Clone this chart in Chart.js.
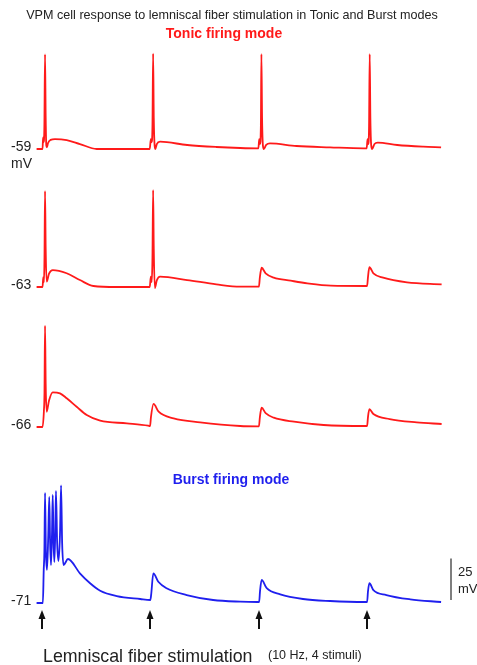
<!DOCTYPE html>
<html>
<head>
<meta charset="utf-8">
<script src="https://cdn.jsdelivr.net/npm/chart.js@4"></script>
<style>
  html, body { margin: 0; padding: 0; background: #fff; }
  #wrap { position: relative; width: 477px; height: 665px; }
</style>
</head>
<body>
<div id="wrap"><canvas id="grafico" width="477" height="665"></canvas></div>
<script>
// valores: tempo (ms, estímulo em 0/100/200/300) e potencial (mV)
const estimulos = [0, 100, 200, 300];
const repouso = [-59, -63, -66, -71];
const rotulos = ["-59", "-63", "-66", "-71"];

const tonico59 = [
  [-5,-59],[0.5,-59],[1.0,-52],[1.5,-55],[2.2,-45],[2.8,-2],[3.4,-40],[4.0,-57],[4.6,-58],
  [5.5,-55.5],[8,-53.5],[12,-53],[22.8,-53.6],[35,-56],[50.5,-59],[70,-59],[98,-59],
  [99.5,-59],[100.5,-53],[101.2,-55],[102,-45],[102.6,-1.5],[103.2,-40],[104,-57],[104.7,-59],
  [106,-56],[109,-54.6],[134,-56.6],[161,-57.8],[183,-58.4],[199,-58.6],
  [199.8,-58.6],[200.6,-53],[201.3,-56],[202.1,-45],[202.6,-1.8],[203.2,-40],[204,-57],[204.8,-59],
  [207,-56.5],[210.5,-55.6],[235,-57.2],[266,-58],[297,-58.6],
  [299.8,-58.6],[300.6,-53],[301.3,-56],[302,-45],[302.6,-1.8],[303.2,-40],[304,-57],[304.8,-59],
  [307,-56],[310,-55.2],[328,-56.6],[352,-57.6],[368.5,-58]
];

const tonico63 = [
  [-5,-63],[0.5,-63],[1.2,-57],[1.8,-60],[2.3,-45],[2.8,-5.2],[3.4,-40],[4.3,-59.8],
  [6.5,-55],[9.9,-52.8],[22.8,-54.7],[35,-58.8],[47.4,-62.4],[69,-63],[98,-63],
  [99.5,-63],[100.5,-56.8],[101.3,-60],[102,-45],[102.6,-4.6],[103.2,-40],[104.2,-63.6],
  [106,-59],[109,-56.8],[134,-58.8],[161,-61.4],[183,-62.8],[199,-62.8],
  [200.3,-62.8],[201.2,-57],[202.8,-51.4],[206.5,-54.8],[214,-57.4],[229.6,-59.2],[245,-60.8],[266.7,-62.2],[299,-62.4],
  [300.2,-62.4],[301,-57],[302.3,-51.1],[306,-54.8],[315,-57.4],[337,-60.2],[369,-61.4]
];

const tonico66 = [
  [-5,-66],[0.5,-66],[1.8,-55.8],[2.3,-45],[2.8,-5],[3.4,-40],[4.3,-56.8],
  [6.5,-50],[9.9,-45.1],[16.6,-45.7],[22.8,-48.7],[32,-53.8],[41.3,-58.8],[53.7,-62.2],[78.4,-63.8],[98,-65.2],
  [99.8,-65.4],[100.6,-60],[103,-52.1],[107.7,-56.8],[121.6,-60.8],[146,-63.2],[183,-65.4],[199,-65.6],
  [200.3,-65.6],[201.2,-60],[202.8,-54.4],[206.5,-57.7],[214,-60.4],[232.7,-62.8],[260,-64.8],[299,-65.4],
  [300.2,-65.4],[301,-60],[302.3,-55.3],[306,-58.2],[321,-61.2],[346,-63.2],[369,-64.2]
];

const rajada71 = [
  [-5,-71],[0.8,-71],[1.6,-51],[2.2,-40],[2.8,-4.7],[3.6,-40],[4.6,-51.1],
  [5.8,-30],[6.7,-7.1],[7.5,-35],[8.3,-48.1],
  [9.2,-30],[9.9,-5.9],[10.7,-35],[11.4,-46.3],
  [12.2,-30],[12.9,-3.5],[14,-35],[15.2,-45.7],
  [16.6,-30],[17.6,-0.1],[18.6,-35],[19.9,-48.1],
  [24,-44.5],[35,-53.1],[44.4,-59.1],[53.7,-63.6],[69,-66.8],[90.7,-68.6],[100,-69.2],
  [100.8,-66],[102.8,-53.1],[107.4,-58.2],[115,-62.1],[133.6,-66.2],[158,-69.2],[183,-70.2],[199,-70.4],
  [200.5,-70.4],[201.3,-64],[202.8,-57.1],[207.5,-62.1],[220,-65.8],[241,-68.6],[266,-69.8],[298.6,-70.4],
  [300.2,-70.4],[301,-64],[302.3,-59.1],[306,-63.2],[318,-66.2],[340,-68.8],[368.5,-70.4]
];

// layout (pixels)
const pxPorMv = 1.66;
const pxPorMs = 1.083;
const xEstimulo0 = 42;
const baseY = [149, 287, 427, 603];
const W = 477, H = 665;

const tracos = [tonico59, tonico63, tonico66, rajada71];
const cores = ["#ff1a1a", "#ff1a1a", "#ff1a1a", "#1f1fee"];

function deslocado(traco, i) {
  const off = -baseY[i] / pxPorMv - repouso[i];
  return traco.map(([t, v]) => ({ x: t, y: v + off }));
}

const FONTE = 'Arial, "Liberation Sans", sans-serif';

const textos = {
  id: "textos",
  afterDraw(chart) {
    const ctx = chart.ctx;
    const sx = chart.scales.x, sy = chart.scales.y;
    ctx.save();
    ctx.textBaseline = "middle";

    ctx.fillStyle = "#222";
    ctx.font = "12.6px " + FONTE;
    ctx.textAlign = "center";
    ctx.fillText("VPM cell response to lemniscal fiber stimulation in Tonic and Burst modes", 232, 16);

    ctx.fillStyle = "#ff1a1a";
    ctx.font = "bold 14px " + FONTE;
    ctx.fillText("Tonic firing mode", 224, 34);

    ctx.fillStyle = "#1f1fee";
    ctx.fillText("Burst firing mode", 231, 480);

    // rótulos do potencial de repouso
    ctx.fillStyle = "#222";
    ctx.font = "14px " + FONTE;
    ctx.textAlign = "left";
    rotulos.forEach((r, i) => ctx.fillText(r, 11, baseY[i] - 2));
    ctx.fillText("mV", 11, 164);

    // barra de escala 25 mV
    const y0 = sy.getPixelForValue(-600 / pxPorMv);
    const y1 = sy.getPixelForValue(-600 / pxPorMv + 25);
    ctx.strokeStyle = "#555";
    ctx.lineWidth = 1.5;
    ctx.beginPath();
    ctx.moveTo(451, y0);
    ctx.lineTo(451, y1);
    ctx.stroke();
    ctx.font = "13px " + FONTE;
    ctx.fillStyle = "#222";
    ctx.fillText("25", 458, 572);
    ctx.fillText("mV", 458, 589);

    // setas dos estímulos
    ctx.fillStyle = "#111";
    ctx.strokeStyle = "#111";
    ctx.lineWidth = 2;
    estimulos.forEach(t => {
      const x = Math.round(sx.getPixelForValue(t));
      ctx.beginPath();
      ctx.moveTo(x, 629);
      ctx.lineTo(x, 616);
      ctx.stroke();
      ctx.beginPath();
      ctx.moveTo(x, 610);
      ctx.lineTo(x - 3.5, 619);
      ctx.lineTo(x + 3.5, 619);
      ctx.closePath();
      ctx.fill();
    });

    ctx.fillStyle = "#222";
    ctx.font = "17.8px " + FONTE;
    ctx.fillText("Lemniscal fiber stimulation", 43, 657);
    ctx.font = "12.5px " + FONTE;
    ctx.fillText("(10 Hz, 4 stimuli)", 268, 656);
    ctx.restore();
  }
};

new Chart(document.getElementById("grafico"), {
  type: "line",
  data: {
    datasets: tracos.map((tr, i) => ({
      data: deslocado(tr, i),
      borderColor: cores[i],
      borderWidth: 1.8,
      pointRadius: 0,
      cubicInterpolationMode: "monotone",
      fill: false
    }))
  },
  options: {
    responsive: false,
    animation: false,
    layout: { padding: 0 },
    plugins: { legend: { display: false }, tooltip: { enabled: false } },
    scales: {
      x: { type: "linear", display: false, min: -xEstimulo0 / pxPorMs, max: (W - xEstimulo0) / pxPorMs },
      y: { type: "linear", display: false, min: -H / pxPorMv, max: 0 }
    }
  },
  plugins: [textos]
});
</script>
</body>
</html>
